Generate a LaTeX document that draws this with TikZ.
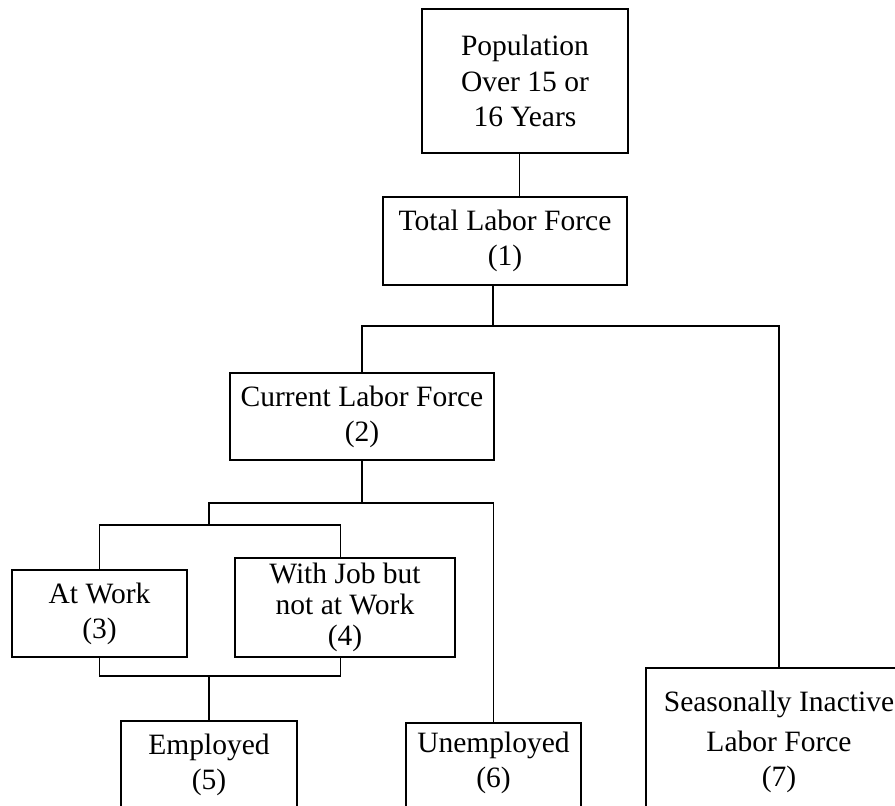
\documentclass[tikz,border=0pt]{standalone}
\usepackage{fontspec}
\setmainfont{Liberation Serif}
\usepackage{tikz}
\usetikzlibrary{positioning}
\tikzset{box/.style={draw, line width=1pt, align=center, inner sep=0pt},
  openbox/.style={box, anchor=north, text depth=3cm},
  link/.style={draw, line width=0.6pt}}

\begin{document}
\begin{tikzpicture}[x=0.02cm, y=-0.02cm, font=\fontsize{16.8}{20}\selectfont]
\useasboundingbox (0,0) rectangle (895,805);
\clip (0,0) rectangle (895,805);
\node[box, minimum width=4.12cm, minimum height=2.88cm] (pop) at (525,81) {Population\\Over 15 or\\ 16 Years};
\node[box, minimum width=4.88cm, minimum height=1.76cm] (total) at (505,241) {Total Labor Force\\(1)};
\node[box, minimum width=5.28cm, minimum height=1.74cm] (current) at (362,416.5) {Current Labor Force\\(2)};
\node[box, minimum width=3.5cm, minimum height=1.74cm] (atwork) at (99.5,613.5) {At Work\\(3)};
\node[box, minimum width=4.4cm, minimum height=1.98cm, font=\fontsize{16.8}{17.6}\selectfont] (withjob) at (345,607.5) {With Job but\\not at Work\\(4)};
\node[openbox, minimum width=3.52cm, inner ysep=7.5pt] (employed) at (209,720) {Employed\\(5)};
\node[openbox, minimum width=3.5cm, inner ysep=5pt] (unemployed) at (493.5,722) {Unemployed\\(6)};
\node[openbox, minimum width=5.32cm, inner ysep=13pt] (seasonal) at (779,667) {Seasonally Inactive\\[3pt]Labor Force\\(7)};
% branch points
\coordinate (j1) at (493,326);
\coordinate (j2) at (362,503);
\coordinate (j3) at (209,525);
\coordinate (j5) at (209,676);
\path[link] ([xshift=-3.4pt]pop.south) -- ([xshift=-3.4pt]pop.south |- total.north);
\path[link] (total.south -| j1) -- (j1);
\path[link] (current.north) |- (seasonal.north |- j1) -- (seasonal.north);
\path[link] (current.south) -- (j2);
\path[link] (unemployed.north) |- (j3 |- j2) -- (j3);
\path[link] (atwork.north) |- (j3) -| ([xshift=-2.3pt]withjob.north);
\path[link] (atwork.south) |- (j5) -| ([xshift=-2.3pt]withjob.south);
\path[link] (j5) -- (employed.north);
\end{tikzpicture}
\end{document}
